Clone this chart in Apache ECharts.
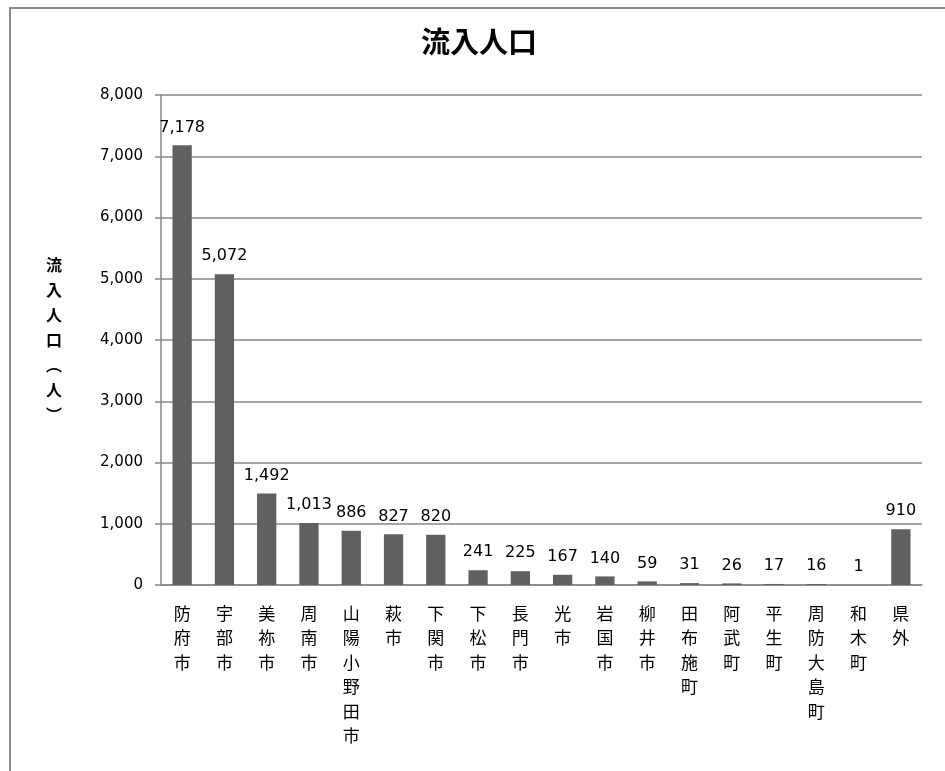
<!DOCTYPE html>
<html>
<head>
<meta charset="utf-8">
<title>流入人口</title>
<script src="https://cdn.jsdelivr.net/npm/echarts@6/dist/echarts.min.js"></script>
<style>
  html, body { margin: 0; padding: 0; background: #fff; }
  #chart { width: 945px; height: 771px; }
</style>
</head>
<body>
<div id="chart"></div>
<script>
// Municipalities (inflow origin) and inflow population
const categories = ['防府市', '宇部市', '美祢市', '周南市', '山陽小野田市', '萩市', '下関市', '下松市', '長門市',
  '光市', '岩国市', '柳井市', '田布施町', '阿武町', '平生町', '周防大島町', '和木町', '県外'];
const inflow = [7178, 5072, 1492, 1013, 886, 827, 820, 241, 225, 167, 140, 59, 31, 26, 17, 16, 1, 910];
const yTicks = { min: 0, max: 8000, interval: 1000 };

const jpFont = '"Noto Sans CJK JP", sans-serif';
const numFont = '"DejaVu Sans", "Noto Sans CJK JP", sans-serif';
const lineGray = '#878787';

const chart = echarts.init(document.getElementById('chart'));
chart.setOption({
  animation: false,
  title: {
    text: '流入人口',
    left: 474,
    top: 22,
    textAlign: 'center',
    textStyle: { fontFamily: jpFont, fontSize: 29, fontWeight: 'bold', color: '#000' }
  },
  graphic: [{
    type: 'rect',
    shape: { x: 10, y: 8, width: 1000, height: 1000 },
    style: { fill: 'none', stroke: '#8a8a8a', lineWidth: 2 },
    silent: true
  }],
  grid: { left: 161, right: 23, top: 95, bottom: 186 },
  xAxis: {
    type: 'category',
    data: categories,
    axisLine: { lineStyle: { color: lineGray, width: 1.5 } },
    axisTick: { length: 7, lineStyle: { color: lineGray, width: 1.5 } },
    axisLabel: {
      interval: 0,
      margin: 16,
      fontFamily: jpFont,
      fontSize: 17,
      lineHeight: 24.5,
      color: '#000',
      verticalAlign: 'top',
      formatter: v => v.split('').join('\n')
    }
  },
  yAxis: {
    type: 'value',
    min: yTicks.min,
    max: yTicks.max,
    interval: yTicks.interval,
    name: '流\n入\n人\n口\n︵\n人\n︶',
    nameLocation: 'middle',
    nameRotate: 0,
    nameGap: 99,
    nameTextStyle: { fontFamily: jpFont, fontSize: 16, fontWeight: 'bold', lineHeight: 25, color: '#000' },
    axisLine: { show: true, lineStyle: { color: lineGray, width: 1.5 } },
    axisTick: { show: true, length: 6, lineStyle: { color: lineGray, width: 1.5 } },
    splitLine: { lineStyle: { color: lineGray, width: 1.5 } },
    axisLabel: {
      margin: 18,
      fontFamily: numFont,
      fontSize: 15,
      color: '#000',
      formatter: v => v.toLocaleString('en-US')
    }
  },
  series: [{
    type: 'bar',
    data: inflow,
    barWidth: '45.6%',
    itemStyle: { color: '#606060' },
    label: {
      show: true,
      position: 'top',
      distance: 10,
      fontFamily: numFont,
      fontSize: 16,
      color: '#000',
      formatter: p => p.value.toLocaleString('en-US')
    }
  }]
});
</script>
</body>
</html>
